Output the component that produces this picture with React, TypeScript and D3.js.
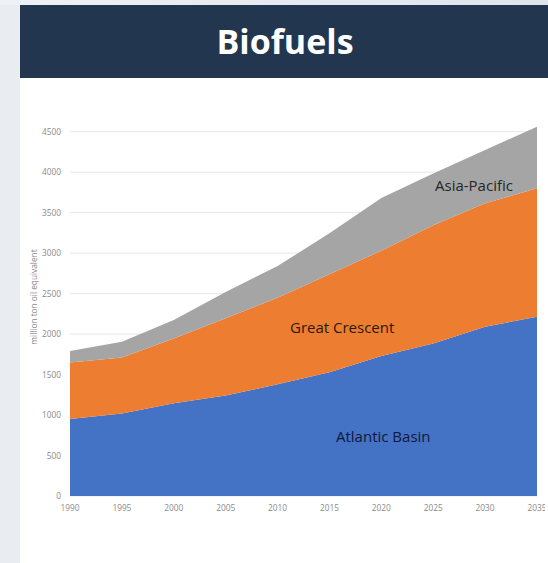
import React from "react";
import * as d3 from "d3";

const years = [1990, 1995, 2000, 2005, 2010, 2015, 2020, 2025, 2030, 2035];
const atlanticBasin = [950, 1020, 1145, 1240, 1380, 1530, 1730, 1885, 2090, 2215];
const greatCrescent = [700, 690, 800, 955, 1070, 1210, 1300, 1460, 1525, 1585];
const asiaPacific = [140, 195, 230, 325, 390, 505, 650, 640, 660, 760];
const yTicks = [0, 500, 1000, 1500, 2000, 2500, 3000, 3500, 4000, 4500];
const seriesNames = ["Atlantic Basin", "Great Crescent", "Asia-Pacific"];
const seriesColors = ["#4472c4", "#ed7d31", "#a5a5a5"];

const W = 548;
const H = 563;

export default function App() {
  const rows = years.map((y, i) => ({
    year: y,
    "Atlantic Basin": atlanticBasin[i],
    "Great Crescent": greatCrescent[i],
    "Asia-Pacific": asiaPacific[i],
  }));
  const stack = d3.stack<any>().keys(seriesNames)(rows);
  const x = d3.scaleLinear().domain([1990, 2035]).range([70, 537]);
  const y = d3.scaleLinear().domain([0, 4500]).range([496, 131.7]);
  const area = d3
    .area<any>()
    .x((d) => x(d.data.year))
    .y0((d) => y(d[0]))
    .y1((d) => y(d[1]));

  const labelFont = "'Open Sans', sans-serif";

  return (
    <div style={{ position: "absolute", left: 0, top: 0, width: W, height: H }}>
      <svg width={W} height={H} style={{ display: "block" }}>
        <defs>
          <linearGradient id="bgTop" x1="0" x2="1" y1="0" y2="0">
            <stop offset="0" stopColor="#eef1f5" />
            <stop offset="1" stopColor="#dfe4ec" />
          </linearGradient>
          <clipPath id="imgClip">
            <rect x={0} y={0} width={545} height={H} />
          </clipPath>
        </defs>
        <rect x={0} y={0} width={W} height={H} fill="#e9edf2" />
        <rect x={0} y={0} width={W} height={5} fill="url(#bgTop)" />
        <rect x={20} y={78} width={W - 20} height={H - 78} fill="#ffffff" />
        <rect x={20} y={5} width={W - 20} height={73} fill="#22364f" />
        <text
          x={285}
          y={54}
          textAnchor="middle"
          fill="#ffffff"
          fontFamily={labelFont}
          fontWeight={700}
          fontSize={34}
        >
          Biofuels
        </text>

        <g clipPath="url(#imgClip)">
          {yTicks.map((t) => (
            <g key={t}>
              <line x1={70} x2={537} y1={y(t)} y2={y(t)} stroke="#e6e6e6" strokeWidth={1} />
              <text
                x={61}
                y={y(t) + 3}
                textAnchor="end"
                fontSize={8.3}
                fill="#8a8a8a"
                fontFamily={labelFont}
              >
                {t}
              </text>
            </g>
          ))}

          {stack.map((s, i) => (
            <path key={s.key} d={area(s as any) || ""} fill={seriesColors[i]} />
          ))}

          {years.map((yr) => (
            <text
              key={yr}
              x={x(yr)}
              y={511}
              textAnchor="middle"
              fontSize={8.3}
              fill="#8a8a8a"
              fontFamily={labelFont}
            >
              {yr}
            </text>
          ))}
        </g>

        <text
          transform={`translate(37,297) rotate(-90)`}
          textAnchor="middle"
          fontSize={8.3}
          fill="#8a8a8a"
          fontFamily={labelFont}
        >
          million ton oil equivalent
        </text>

        <text x={435} y={190.5} fontSize={15} fill="#262626" fontFamily={labelFont}>
          Asia-Pacific
        </text>
        <text x={290} y={332.5} fontSize={15} fill="#2a1a10" fontFamily={labelFont}>
          Great Crescent
        </text>
        <text x={336} y={441.5} fontSize={15} fill="#10183a" fontFamily={labelFont}>
          Atlantic Basin
        </text>
      </svg>
    </div>
  );
}
